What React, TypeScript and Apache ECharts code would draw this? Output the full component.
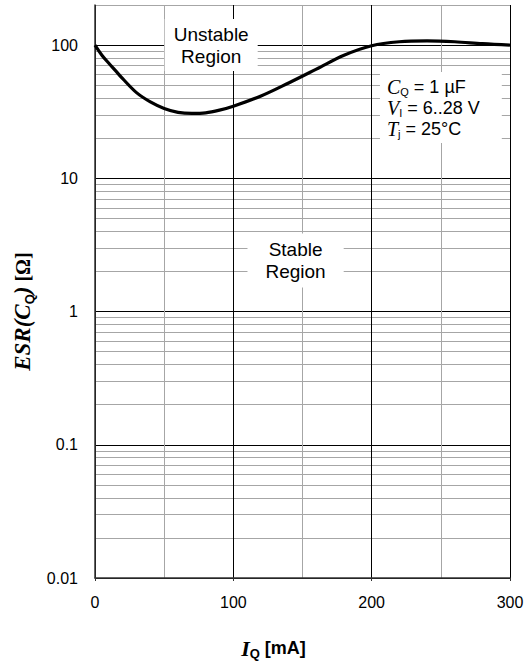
import React, { useEffect, useRef } from "react";
import * as echarts from "echarts";

// Output current I_Q [mA]
const currentMA = [0, 5, 10, 15, 20, 30, 40, 50, 60, 70, 80, 90, 100, 120, 140, 160, 180, 200, 220, 240, 260, 280, 300];
// ESR(C_Q) boundary [Ohm]
const esrOhm = [100, 84, 73, 64, 56, 44, 37.5, 33.5, 31.3, 30.7, 31, 32.5, 34.8, 41.5, 52, 66, 84, 99, 106, 107.6, 106, 102.5, 100];

const xTicks = [0, 100, 200, 300];
const yDecades = [0.01, 0.1, 1, 10, 100];
const minorMultipliers = [2, 3, 4, 5, 6, 7, 8, 9];

const SANS = '"Liberation Sans", Arial, sans-serif';
const SERIF = '"Liberation Serif", "Times New Roman", serif';

export default function App() {
  const ref = useRef<HTMLDivElement>(null);
  useEffect(() => {
    document.body.style.margin = "0";
    if (!ref.current) return;
    const chart = echarts.init(ref.current, undefined, { renderer: "svg" });

    const minorY: number[] = [];
    yDecades.forEach((d) => {
      minorMultipliers.forEach((m) => {
        const v = Number((d * m).toPrecision(6));
        if (v <= 200) minorY.push(v);
      });
    });

    const yFmt = (v: number) => {
      const l = Math.log10(v);
      if (Math.abs(l - Math.round(l)) > 1e-6) return "";
      return String(Number(v.toPrecision(6)));
    };

    chart.setOption({
      animation: false,
      backgroundColor: "#fff",
      grid: { left: 95, right: 21, top: 5, bottom: 83, containLabel: false, outerBoundsMode: "none" },
      xAxis: {
        type: "value",
        min: xTicks[0],
        max: xTicks[xTicks.length - 1],
        interval: 100,
        z: 2,
        name: "{i|I}{sub|Q}{b| [mA]}",
        nameLocation: "middle",
        nameGap: 58,
        nameTextStyle: {
          padding: [0, 58, 0, 0],
          rich: {
            i: { fontFamily: SERIF, fontStyle: "italic", fontWeight: "bold", fontSize: 22, lineHeight: 24, color: "#000" },
            sub: { fontFamily: SANS, fontWeight: "bold", fontSize: 13, lineHeight: 12, verticalAlign: "bottom", color: "#000" },
            b: { fontFamily: SANS, fontWeight: "bold", fontSize: 18, lineHeight: 24, color: "#000" },
          },
        },
        axisLine: { show: true, onZero: false, lineStyle: { color: "#333", width: 1.5 } },
        axisTick: { show: true, length: 3, lineStyle: { color: "#333" } },
        axisLabel: { fontFamily: SANS, fontSize: 16, color: "#000", margin: 16 },
        splitLine: { show: true, lineStyle: { color: "#000", width: 1 } },
        minorTick: { show: false, splitNumber: 2 },
        minorSplitLine: { show: true, lineStyle: { color: "#a6a6a6", width: 1 } },
      },
      yAxis: {
        type: "log",
        logBase: 10,
        min: yDecades[0],
        max: 200,
        z: 2,
        name: "{i|ESR(C}{sub|Q}{i|)}{b| [Ω]}",
        nameLocation: "middle",
        nameGap: 56,
        nameTextStyle: {
          padding: [0, 40, 0, 0],
          rich: {
            i: { fontFamily: SERIF, fontStyle: "italic", fontWeight: "bold", fontSize: 23, lineHeight: 26, color: "#000" },
            sub: { fontFamily: SANS, fontWeight: "bold", fontSize: 13, lineHeight: 12, verticalAlign: "bottom", color: "#000" },
            b: { fontFamily: SERIF, fontWeight: "bold", fontSize: 20, lineHeight: 26, color: "#000" },
          },
        },
        axisLine: { show: true, lineStyle: { color: "#333", width: 1.5 } },
        axisTick: { show: false },
        axisLabel: { fontFamily: SANS, fontSize: 16, color: "#000", margin: 17, formatter: yFmt },
        splitLine: { show: true, showMaxLine: false, lineStyle: { color: "#000", width: 1 } },
      },
      series: [
        {
          type: "line",
          data: [],
          silent: true,
          z: 1,
          markLine: {
            silent: true,
            symbol: "none",
            z: 1,
            label: { show: false },
            lineStyle: { color: "#a6a6a6", width: 1, type: "solid" },
            data: minorY.map((v) => ({ yAxis: v })),
          },
        },
        {
          type: "line",
          data: currentMA.map((x, i) => [x, esrOhm[i]]),
          smooth: 0.35,
          showSymbol: false,
          symbol: "none",
          z: 5,
          lineStyle: { color: "#000", width: 3.2 },
        },
      ],
    });

    const px = (x: number, y: number) => chart.convertToPixel({ gridIndex: 0 }, [x, y]) as number[];
    const pUnstable = px(84, 100);
    const pStable = px(145, 2.42);
    const pParams = px(206, 62.7);

    chart.setOption({
      graphic: [
        {
          type: "text",
          x: pUnstable[0],
          y: pUnstable[1],
          z: 100,
          style: {
            text: "Unstable\nRegion",
            fontFamily: SANS,
            fontSize: 19,
            lineHeight: 22,
            fill: "#000",
            align: "center",
            verticalAlign: "middle",
            backgroundColor: "#fff",
            padding: [4, 9],
          },
        },
        {
          type: "text",
          x: pStable[0],
          y: pStable[1],
          z: 100,
          style: {
            text: "Stable\nRegion",
            fontFamily: SANS,
            fontSize: 19,
            lineHeight: 22,
            fill: "#000",
            align: "center",
            verticalAlign: "middle",
            backgroundColor: "#fff",
            padding: [5, 18],
          },
        },
        {
          type: "text",
          x: pParams[0],
          y: pParams[1],
          z: 100,
          style: {
            text: "{c|C}{s|Q}{n| = 1 µF}\n{c|V}{s|I}{n| = 6..28 V}\n{c|T}{s|j}{n| = 25°C}",
            align: "left",
            verticalAlign: "top",
            backgroundColor: "#fff",
            padding: [4, 22, 4, 7],
            rich: {
              c: { fontFamily: SERIF, fontStyle: "italic", fontSize: 20, lineHeight: 21, fill: "#000" },
              s: { fontFamily: SANS, fontSize: 11, lineHeight: 10, verticalAlign: "bottom", fill: "#000" },
              n: { fontFamily: SANS, fontSize: 18, lineHeight: 21, fill: "#000" },
            },
          },
        },
      ],
    });

    return () => chart.dispose();
  }, []);
  return <div ref={ref} style={{ width: 531, height: 661 }} />;
}
